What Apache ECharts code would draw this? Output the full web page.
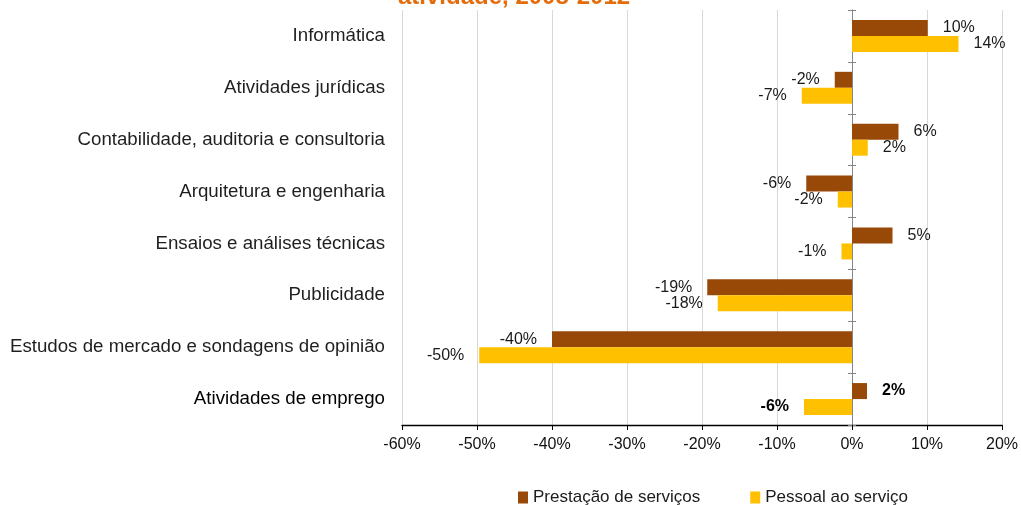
<!DOCTYPE html>
<html>
<head>
<meta charset="utf-8">
<script src="https://cdn.jsdelivr.net/npm/echarts@6/dist/echarts.min.js"></script>
<style>
  html, body { margin: 0; padding: 0; background: #fff; }
  #chart { width: 1021px; height: 505px; }
</style>
</head>
<body>
<div id="chart"></div>
<script>
const titleText = 'atividade, 2008-2012';
const categories = [
  'Informática',
  'Atividades jurídicas',
  'Contabilidade, auditoria e consultoria',
  'Arquitetura e engenharia',
  'Ensaios e análises técnicas',
  'Publicidade',
  'Estudos de mercado e sondagens de opinião',
  'Atividades de emprego'
];
const highlightCategory = 'Atividades de emprego';
const seriesNames = ['Prestação de serviços', 'Pessoal ao serviço'];
const prestacao = [10.1, -2.3, 6.2, -6.1, 5.4, -19.3, -40.0, 2.0];
const pessoal = [14.2, -6.7, 2.1, -1.9, -1.4, -17.9, -49.7, -6.4];
const xMin = -60, xMax = 20, xStep = 10;
const colors = ['#984807', '#FFC000'];

function buildData(values) {
  return values.map((v, i) => {
    const bold = categories[i] === highlightCategory;
    return {
      value: v,
      label: {
        position: v >= 0 ? 'right' : 'left',
        fontWeight: bold ? 'bold' : 'normal',
        color: bold ? '#000' : '#1a1a1a'
      }
    };
  });
}

const catData = categories.map(c => c === highlightCategory
  ? { value: c, textStyle: { color: '#000' } }
  : c);

const chart = echarts.init(document.getElementById('chart'));
const labelBase = {
  show: true,
  distance: 15,
  fontFamily: 'Liberation Sans',
  fontSize: 16,
  formatter: p => Math.round(p.value) + '%'
};
const zeroLine = { color: '#868686', width: 1 };
chart.setOption({
  animation: false,
  textStyle: { fontFamily: 'Liberation Sans' },
  title: {
    text: titleText,
    left: 393,
    top: -20,
    textStyle: { color: '#E46C0A', fontSize: 24, fontWeight: 'bold', fontFamily: 'Liberation Sans' }
  },
  grid: { left: 402, right: 19, top: 10, bottom: 80, containLabel: false, outerBoundsMode: 'none' },
  legend: {
    top: 484,
    left: 513,
    itemWidth: 10,
    itemHeight: 12,
    itemGap: 50,
    icon: 'rect',
    textStyle: { fontSize: 17, color: '#1a1a1a', fontFamily: 'Liberation Sans' },
    data: seriesNames
  },
  xAxis: {
    type: 'value',
    min: xMin, max: xMax, interval: xStep,
    axisLine: { show: true, onZero: false, lineStyle: { color: '#000', width: 1.3 } },
    axisTick: { show: true, length: 5, lineStyle: { color: '#000' } },
    axisLabel: { formatter: '{value}%', fontSize: 16, color: '#111', margin: 12 },
    splitLine: { show: true, lineStyle: { color: '#D9D9D9', width: 1 } }
  },
  yAxis: [
    {
      type: 'category', inverse: true, data: catData,
      axisLine: { show: false, onZero: false }, axisTick: { show: false },
      axisLabel: { fontSize: 18.7, color: '#1f1f1f', margin: 17 }
    },
    {
      type: 'category', inverse: true, data: categories, position: 'left',
      axisLine: { show: true, onZero: true, onZeroAxisIndex: 0, lineStyle: zeroLine },
      axisTick: { show: true, length: 4, lineStyle: zeroLine },
      axisLabel: { show: false }
    },
    {
      type: 'category', inverse: true, data: categories, position: 'left',
      axisLine: { show: true, onZero: true, onZeroAxisIndex: 0, lineStyle: zeroLine },
      axisTick: { show: true, inside: true, length: 4, lineStyle: zeroLine },
      axisLabel: { show: false }
    }
  ],
  series: [
    {
      name: seriesNames[0], type: 'bar', yAxisIndex: 0,
      barWidth: 16, barGap: '0%',
      itemStyle: { color: colors[0] },
      label: labelBase,
      data: buildData(prestacao)
    },
    {
      name: seriesNames[1], type: 'bar', yAxisIndex: 0,
      barWidth: 16, barGap: '0%',
      itemStyle: { color: colors[1] },
      label: labelBase,
      data: buildData(pessoal)
    }
  ]
});
</script>
</body>
</html>
